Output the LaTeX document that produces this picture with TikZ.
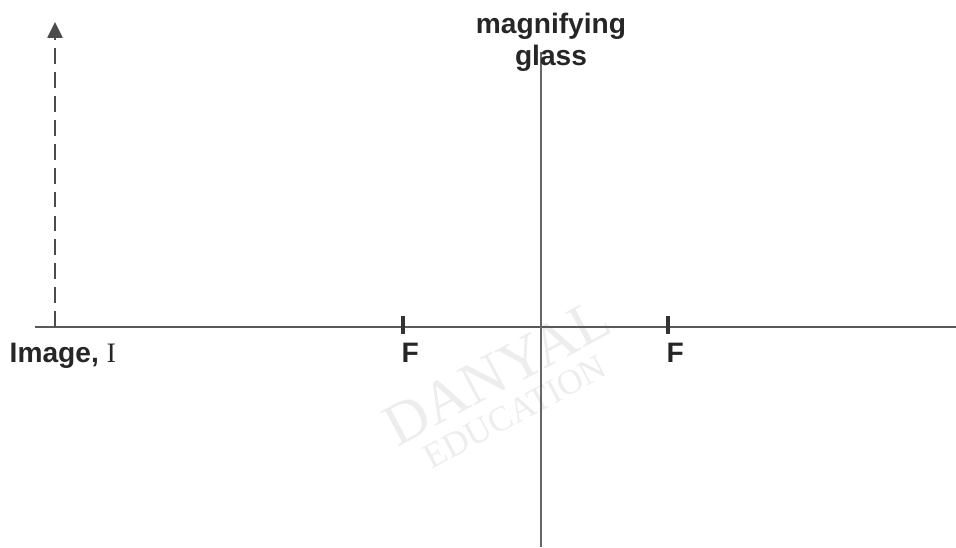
\documentclass[tikz,border=0pt]{standalone}
\usepackage{fontspec}
\setmainfont{Liberation Sans}
\newfontfamily\serifrm{Liberation Serif}
\usetikzlibrary{arrows.meta}
\begin{document}
\begin{tikzpicture}[x=0.01cm,y=-0.01cm,
  axisline/.style={draw=black!65,line width=0.6pt},
  lensline/.style={draw=black!60,line width=0.7pt},
  tickline/.style={draw=black!80,line width=0.9pt},
  imgarrow/.style={draw=black!70,line width=0.8pt,dash pattern=on 4.5pt off 2.3pt,-{Triangle[length=4.5pt,width=4.2pt]}},
  lbl/.style={font=\fontsize{8}{9.2}\selectfont\bfseries,text=black!85,inner sep=0pt},
  wmark/.style={text=black!7,font=\serifrm,inner sep=0pt}]
\useasboundingbox (0,0) rectangle (956,547);
% watermark
\node[wmark,rotate=28,font=\serifrm\fontsize{17}{17}\selectfont] (wm1) at (497,372) {DANYAL};
\node[wmark,rotate=28,font=\serifrm\fontsize{10}{10}\selectfont] (wm2) at (515,412) {EDUCATION};
% principal axis and lens
\coordinate (axL) at (35,327);
\coordinate (axR) at (956,327);
\coordinate (lensT) at (541,52);
\coordinate (lensB) at (541,547);
\draw[axisline] (axL) -- (axR);
\draw[lensline] (lensT) -- (lensB);
% focal points
\coordinate (f1t) at (403,316);
\coordinate (f1b) at (403,334);
\coordinate (f2t) at (668,316);
\coordinate (f2b) at (668,334);
\draw[tickline] (f1t) -- (f1b);
\draw[tickline] (f2t) -- (f2b);
% image arrow
\coordinate (imgB) at (55,327);
\coordinate (imgT) at (55,22);
\draw[imgarrow] (imgB) -- (imgT);
% labels
\node[lbl,anchor=base west] (F1) at (401,362) {F};
\node[lbl,anchor=base west] (F2) at (666,362) {F};
\node[lbl,anchor=base west] (imglbl) at (9,362) {Image, {\serifrm\mdseries I}};
\node[lbl,align=center,anchor=north] (mg) at (551,12) {magnifying\\glass};
\end{tikzpicture}
\end{document}
